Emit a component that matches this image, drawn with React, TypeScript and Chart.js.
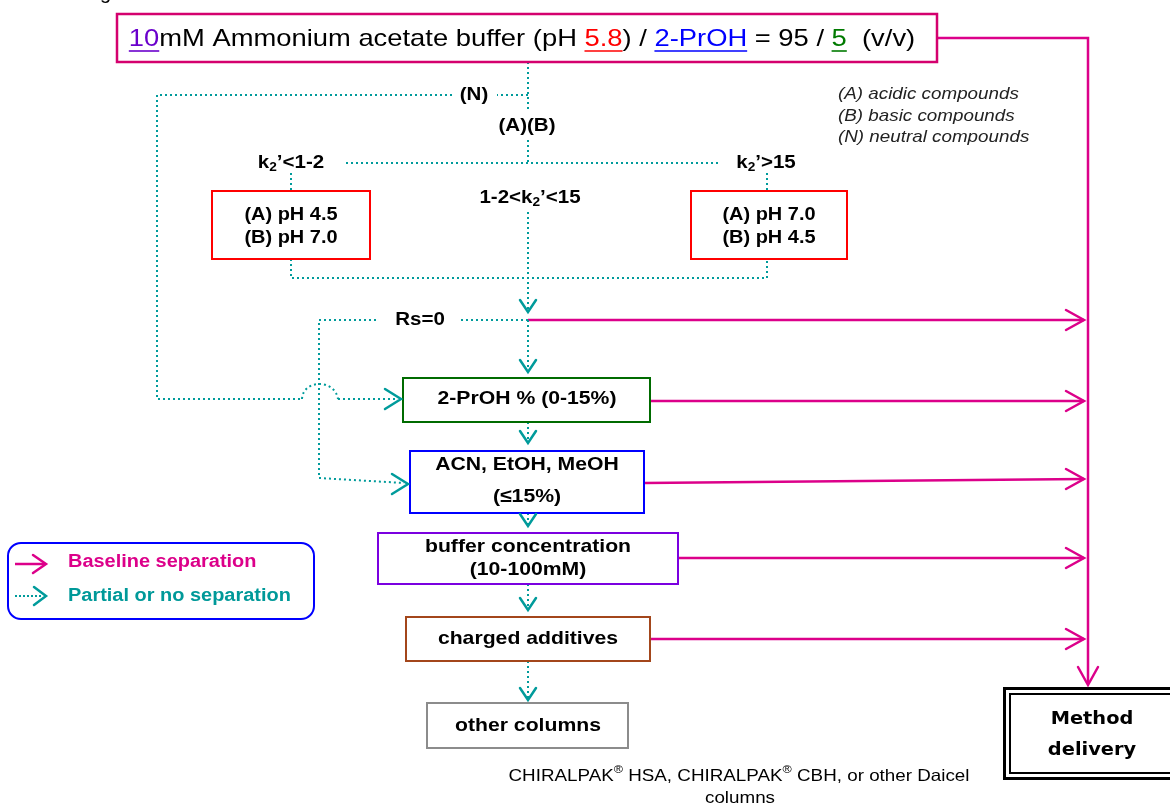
import React, { useEffect, useRef } from 'react';
import { Chart, registerables } from 'chart.js';
Chart.register(...registerables);

const W = 1170;
const H = 803;
const FONT = "'Liberation Sans', Arial, sans-serif";
const TEAL = '#009b9b';
const MAGENTA = '#dc008a';
const SX = 1.14; // horizontal stretch of the reference lettering

// ---- nodes (diagram units) ----
const nodeText: string[][] = [
  [],
  ['(A) pH 4.5', '(B) pH 7.0'],
  ['(A) pH 7.0', '(B) pH 4.5'],
  ['2-PrOH % (0-15%)'],
  ['ACN, EtOH, MeOH', '(≤15%)'],
  ['buffer concentration', '(10-100mM)'],
  ['charged additives'],
  ['other columns'],
  ['Method', 'delivery'],
];
const nodeLeft = [117, 212, 691, 403, 410, 378, 406, 427, 1003];
const nodeTop = [14, 191, 191, 378, 451, 533, 617, 703, 687];
const nodeRight = [937, 370, 847, 650, 644, 678, 650, 628, 1190];
const nodeBottom = [62, 259, 259, 422, 513, 584, 661, 748, 780];
const nodeBorder = ['#d4006e', '#ff0000', '#ff0000', '#006b00', '#0000ff', '#7b00e0', '#a3461b', '#8c8c8c', '#000000'];
const nodeLineY: number[][] = [[39], [215, 238], [215, 238], [399], [465, 497], [547, 570], [639], [726], [720, 751]];
const nodeTextX = [522, 291, 769, 527, 527, 528, 528, 528, 1092];

// ---- title ----
const titleParts = ['10', 'mM Ammonium acetate buffer (pH ', '5.8', ') / ', '2-PrOH', ' = 95 / ', '5', '  (v/v)'];
const titleColors = ['#6a00cc', '#000000', '#ff0000', '#000000', '#0000ff', '#000000', '#007a00', '#000000'];
const titleUnderline = [true, false, true, false, true, false, true, false];

// ---- connectors ----
const dottedPaths: number[][][] = [
  [[528, 62], [528, 110]],
  [[528, 95], [497, 95]],
  [[452, 95], [157, 95], [157, 399], [302, 399]],
  [[338, 399], [398, 399]],
  [[528, 140], [528, 163]],
  [[346, 163], [721, 163]],
  [[291, 173], [291, 191]],
  [[767, 173], [767, 191]],
  [[528, 212], [528, 311]],
  [[291, 259], [291, 278], [767, 278], [767, 259]],
  [[528, 320], [459, 320]],
  [[376, 320], [319, 320], [319, 478], [404, 483]],
  [[528, 320], [528, 371]],
  [[528, 422], [528, 442]],
  [[528, 513], [528, 525]],
  [[528, 584], [528, 609]],
  [[528, 661], [528, 699]],
];
const solidPaths: number[][][] = [
  [[937, 38], [1088, 38], [1088, 684]],
  [[528, 320], [1084, 320]],
  [[650, 401], [1084, 401]],
  [[644, 483], [1084, 479]],
  [[678, 558], [1084, 558]],
  [[650, 639], [1084, 639]],
];
const tealArrowX = [528, 528, 528, 528, 528, 528, 401, 408];
const tealArrowY = [312, 372, 443, 526, 610, 700, 399, 484];
const tealArrowDir = ['down', 'down', 'down', 'down', 'down', 'down', 'right', 'right'];
const magArrowX = [1084, 1084, 1084, 1084, 1084, 1088];
const magArrowY = [320, 401, 479, 558, 639, 685];
const magArrowDir = ['right', 'right', 'right', 'right', 'right', 'down'];

// ---- labels ----
const notes = ['(A) acidic compounds', '(B) basic compounds', '(N) neutral compounds'];
const notesY = [94, 116, 137];
const legendLabels = ['Baseline separation', 'Partial or no separation'];
const footer1 = ['CHIRALPAK', '®', ' HSA, CHIRALPAK', '®', ' CBH, or other Daicel'];
const footer2 = 'columns';

type Seg = { t: string; color?: string; font: string; dy?: number; underline?: boolean };

function drawSegs(ctx: CanvasRenderingContext2D, segs: Seg[], x: number, y: number, align: string, sx: number = SX) {
  let total = 0;
  for (const s of segs) {
    ctx.font = s.font;
    total += ctx.measureText(s.t).width * sx;
  }
  let cx = align === 'center' ? x - total / 2 : x;
  ctx.textAlign = 'left';
  ctx.textBaseline = 'middle';
  for (const s of segs) {
    ctx.font = s.font;
    ctx.fillStyle = s.color || '#000';
    const w = ctx.measureText(s.t).width * sx;
    ctx.save();
    ctx.translate(cx, y + (s.dy || 0));
    ctx.scale(sx, 1);
    ctx.fillText(s.t, 0, 0);
    ctx.restore();
    if (s.underline) {
      ctx.strokeStyle = s.color || '#000';
      ctx.lineWidth = 1.6;
      ctx.setLineDash([]);
      ctx.beginPath();
      ctx.moveTo(cx, y + 12);
      ctx.lineTo(cx + w, y + 12);
      ctx.stroke();
    }
    cx += w;
  }
}

function chevron(ctx: CanvasRenderingContext2D, x: number, y: number, dir: string, len: number, half: number, color: string, lw: number) {
  ctx.save();
  ctx.setLineDash([]);
  ctx.strokeStyle = color;
  ctx.lineWidth = lw;
  ctx.lineCap = 'round';
  ctx.lineJoin = 'miter';
  ctx.beginPath();
  if (dir === 'down') {
    ctx.moveTo(x - half, y - len);
    ctx.lineTo(x, y);
    ctx.lineTo(x + half, y - len);
  } else {
    ctx.moveTo(x - len, y - half);
    ctx.lineTo(x, y);
    ctx.lineTo(x - len, y + half);
  }
  ctx.stroke();
  ctx.restore();
}

const flowPlugin = {
  id: 'flow',
  afterDatasetsDraw(chart: any) {
    const ctx: CanvasRenderingContext2D = chart.ctx;
    const xs = chart.scales.x;
    const ys = chart.scales.y;
    const X = (v: number) => xs.getPixelForValue(v);
    const Y = (v: number) => ys.getPixelForValue(v);
    ctx.save();

    // hop arc
    ctx.strokeStyle = TEAL;
    ctx.lineWidth = 2;
    ctx.setLineDash([2, 3]);
    ctx.beginPath();
    ctx.moveTo(X(302), Y(399));
    ctx.bezierCurveTo(X(303), Y(379), X(335), Y(379), X(338), Y(399));
    ctx.stroke();
    ctx.setLineDash([]);

    // boxes
    for (let i = 0; i < nodeLeft.length; i++) {
      const l = X(nodeLeft[i]), t = Y(nodeTop[i]), r = X(nodeRight[i]), b = Y(nodeBottom[i]);
      ctx.strokeStyle = nodeBorder[i];
      if (i === 8) {
        ctx.lineWidth = 3;
        ctx.strokeRect(l + 1.5, t + 1.5, r - l - 3, b - t - 3);
        ctx.lineWidth = 2;
        ctx.strokeRect(l + 7, t + 7, r - l - 14, b - t - 14);
      } else {
        ctx.lineWidth = i === 0 ? 2.5 : 2;
        ctx.strokeRect(l, t, r - l, b - t);
      }
      const lines = nodeText[i];
      for (let j = 0; j < lines.length; j++) {
        let font = `bold 18.6px ${FONT}`;
        if (i === 8) font = "bold 17px 'DejaVu Sans', sans-serif";
        if (i === 1 || i === 2) font = `bold 17.5px ${FONT}`;
        drawSegs(ctx, [{ t: lines[j], font }], X(nodeTextX[i]), Y(nodeLineY[i][j]), 'center');
      }
    }

    // title
    const tf = `24px ${FONT}`;
    drawSegs(
      ctx,
      titleParts.map((t, i) => ({ t, font: tf, color: titleColors[i], underline: titleUnderline[i] })),
      X(nodeTextX[0]),
      Y(nodeLineY[0][0]),
      'center'
    );

    // clipped g at top-left
    ctx.font = `20px ${FONT}`;
    ctx.fillStyle = '#000';
    ctx.textBaseline = 'alphabetic';
    ctx.fillText('g', X(100), Y(-1));

    // arrows
    for (let i = 0; i < tealArrowX.length; i++) {
      const side = tealArrowDir[i] === 'right';
      chevron(ctx, X(tealArrowX[i]), Y(tealArrowY[i]), tealArrowDir[i], side ? 16 : 12, side ? 10 : 8, TEAL, 2.5);
    }
    for (let i = 0; i < magArrowX.length; i++) {
      chevron(ctx, X(magArrowX[i]), Y(magArrowY[i]), magArrowDir[i], 18, 10, MAGENTA, 2.5);
    }

    // bold labels
    const bf = `bold 18px ${FONT}`;
    const sf = `bold 12px ${FONT}`;
    drawSegs(ctx, [{ t: '(N)', font: bf }], X(474), Y(95), 'center');
    drawSegs(ctx, [{ t: '(A)(B)', font: bf }], X(527), Y(126), 'center');
    drawSegs(ctx, [{ t: 'k', font: bf }, { t: '2', font: sf, dy: 5 }, { t: '’<1-2', font: bf }], X(291), Y(163), 'center');
    drawSegs(ctx, [{ t: 'k', font: bf }, { t: '2', font: sf, dy: 5 }, { t: '’>15', font: bf }], X(766), Y(163), 'center');
    drawSegs(ctx, [{ t: '1-2<k', font: bf }, { t: '2', font: sf, dy: 5 }, { t: '’<15', font: bf }], X(530), Y(198), 'center');
    drawSegs(ctx, [{ t: 'Rs=0', font: bf }], X(420), Y(320), 'center');

    // notes
    for (let i = 0; i < notes.length; i++) {
      drawSegs(ctx, [{ t: notes[i], font: `italic 16.5px ${FONT}`, color: '#222' }], X(838), Y(notesY[i]), 'left');
    }

    // legend
    const lx0 = X(8), ly0 = Y(543), lx1 = X(314), ly1 = Y(619);
    ctx.strokeStyle = '#0000ff';
    ctx.lineWidth = 2;
    ctx.beginPath();
    ctx.roundRect(lx0, ly0, lx1 - lx0, ly1 - ly0, 13);
    ctx.stroke();
    ctx.strokeStyle = MAGENTA;
    ctx.lineWidth = 2.5;
    ctx.beginPath();
    ctx.moveTo(X(15), Y(564));
    ctx.lineTo(X(45), Y(564));
    ctx.stroke();
    chevron(ctx, X(46), Y(564), 'right', 13, 9, MAGENTA, 2.5);
    ctx.strokeStyle = TEAL;
    ctx.lineWidth = 2;
    ctx.setLineDash([2, 2]);
    ctx.beginPath();
    ctx.moveTo(X(15), Y(596));
    ctx.lineTo(X(42), Y(596));
    ctx.stroke();
    ctx.setLineDash([]);
    chevron(ctx, X(46), Y(596), 'right', 12, 9, TEAL, 2.5);
    drawSegs(ctx, [{ t: legendLabels[0], font: `bold 17.5px ${FONT}`, color: '#dc008a' }], X(68), Y(562), 'left');
    drawSegs(ctx, [{ t: legendLabels[1], font: `bold 17.5px ${FONT}`, color: '#009999' }], X(68), Y(596), 'left');

    // footer
    const ff = `16.5px ${FONT}`;
    const fs = `11px ${FONT}`;
    drawSegs(
      ctx,
      footer1.map((t) => (t === '®' ? { t, font: fs, dy: -6 } : { t, font: ff })),
      X(739),
      Y(776),
      'center'
    );
    drawSegs(ctx, [{ t: footer2, font: ff }], X(740), Y(798), 'center');

    ctx.restore();
  },
};

export default function App() {
  const ref = useRef<HTMLCanvasElement>(null);
  useEffect(() => {
    const canvas = ref.current!;
    const line = (p: number[][], color: string, dashed: boolean) => ({
      data: p.map(([x, y]) => ({ x, y })),
      showLine: true,
      borderColor: color,
      backgroundColor: color,
      borderWidth: dashed ? 2 : 2.5,
      borderDash: dashed ? [2, 3] : [],
      pointRadius: 0,
      pointHoverRadius: 0,
      fill: false,
      tension: 0,
    });
    const datasets = [
      ...dottedPaths.map((p) => line(p, TEAL, true)),
      ...solidPaths.map((p) => line(p, MAGENTA, false)),
    ];
    const chart = new Chart(canvas, {
      type: 'scatter',
      data: { datasets },
      options: {
        responsive: false,
        animation: false,
        devicePixelRatio: 1,
        layout: { padding: 0 },
        events: [],
        scales: {
          x: { type: 'linear', min: 0, max: W, display: false },
          y: { type: 'linear', min: 0, max: H, reverse: true, display: false },
        },
        plugins: { legend: { display: false }, tooltip: { enabled: false } },
      } as any,
      plugins: [flowPlugin],
    });
    return () => chart.destroy();
  }, []);
  return (
    <div style={{ position: 'fixed', left: 0, top: 0, width: W, height: H, background: '#fff' }}>
      <canvas ref={ref} width={W} height={H} style={{ display: 'block', width: W, height: H }} />
    </div>
  );
}
